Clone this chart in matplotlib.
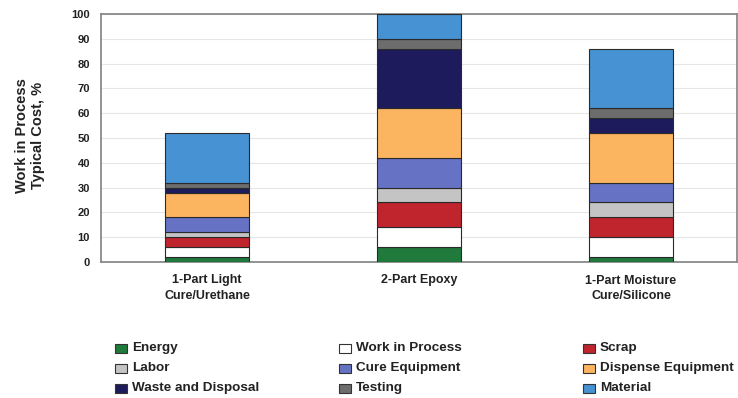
import matplotlib
matplotlib.use("Agg")
import matplotlib.pyplot as plt
from matplotlib.patches import Rectangle

plt.rcParams['font.family'] = ['Liberation Sans', 'DejaVu Sans']

# chart data
categories = ["1-Part Light\nCure/Urethane", "2-Part Epoxy", "1-Part Moisture\nCure/Silicone"]
cost_items = ["Energy", "Work in Process", "Scrap", "Labor", "Cure Equipment",
              "Dispense Equipment", "Waste and Disposal", "Testing", "Material"]
energy = [2, 6, 2]
work_in_process = [4, 8, 8]
scrap = [4, 10, 8]
labor = [2, 6, 6]
cure_equipment = [6, 12, 8]
dispense_equipment = [10, 20, 20]
waste_disposal = [2, 24, 6]
testing = [2, 4, 4]
material = [20, 10, 24]
y_ticks = [0, 10, 20, 30, 40, 50, 60, 70, 80, 90, 100]

series = [energy, work_in_process, scrap, labor, cure_equipment,
          dispense_equipment, waste_disposal, testing, material]
colors = ["#1f7a3c", "#ffffff", "#c0242c", "#c4c4c4", "#6673c4",
          "#fbb561", "#1d1b5c", "#6d6d6d", "#4692d2"]

fig = plt.figure(figsize=(7.38, 3.98), dpi=100)
ax = fig.add_axes([101 / 738, 1 - 262 / 398, 636 / 738, 248 / 398])

x = list(range(len(categories)))
bottom = [0] * len(categories)
for vals, col in zip(series, colors):
    ax.bar(x, vals, width=0.40, bottom=bottom, color=col,
           edgecolor="#2a2a2a", linewidth=0.8, zorder=3)
    bottom = [b + v for b, v in zip(bottom, vals)]

ax.set_xlim(-0.5, 2.5)
ax.set_ylim(0, 100)
ax.set_yticks(y_ticks)
ax.set_yticklabels([str(t) for t in y_ticks], fontsize=8, fontweight="bold", color="#222222")
ax.set_xticks(x)
ax.set_xticklabels(categories, fontsize=9, fontweight="bold", color="#222222", linespacing=1.4)
ax.tick_params(axis="both", length=0)
ax.tick_params(axis="y", pad=8)
ax.tick_params(axis="x", pad=9)
ax.grid(axis="y", color="#e6e6e6", linewidth=0.8, zorder=0)
for s in ax.spines.values():
    s.set_color("#8a8a8a")
    s.set_linewidth(1.3)

ax.set_ylabel("Work in Process\nTypical Cost, %", fontsize=10.5, fontweight="bold",
              color="#222222", linespacing=1.15)
ax.yaxis.set_label_coords(-0.088, 0.51)

# legend laid out by hand, 3 columns
col_x = [115, 339, 583]
row_y = [348, 368, 388]
for i, (name, col) in enumerate(zip(cost_items, colors)):
    px = col_x[i % 3]
    py = row_y[i // 3]
    fig.add_artist(Rectangle((px / 738, 1 - (py + 4.5) / 398), 12 / 738, 9 / 398,
                             transform=fig.transFigure, facecolor=col,
                             edgecolor="#333333", linewidth=0.8))
    fig.text((px + 17) / 738, 1 - py / 398, name, fontsize=9.7, fontweight="bold",
             color="#222222", va="center", ha="left")

fig.savefig("out.png", dpi=100)
